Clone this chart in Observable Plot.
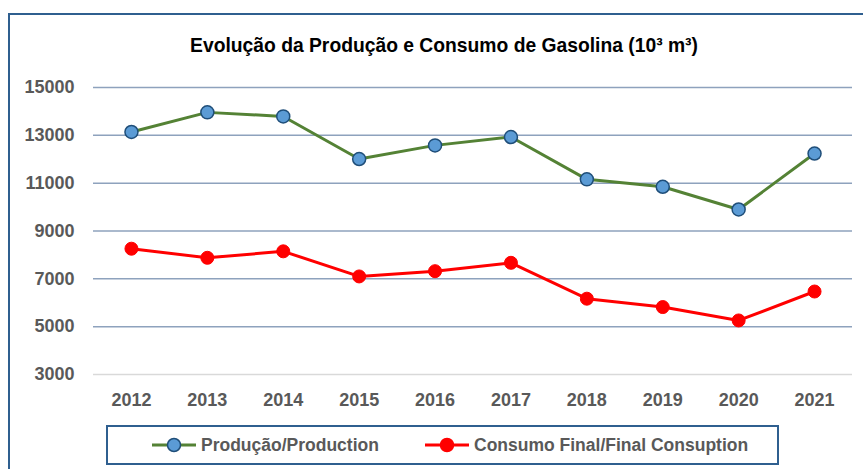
<!DOCTYPE html>
<html>
<head>
<meta charset="utf-8">
<script src="https://cdn.jsdelivr.net/npm/d3@7"></script>
<script src="https://cdn.jsdelivr.net/npm/@observablehq/plot@0.6"></script>
<style>
  html, body { margin: 0; padding: 0; background: #fff; }
  #wrap { position: relative; width: 863px; height: 469px; overflow: hidden; background: #fff; }
  #frame { position: absolute; left: 8px; top: 13px; right: -10px; bottom: -10px; border: 2px solid #2f5f8f; }
  #title { position: absolute; left: 25px; right: 0; top: 33px; height: 26px; line-height: 26px; text-align: center;
           font-family: "Liberation Sans", sans-serif; font-weight: bold; font-size: 19.3px; color: #000; }
  #chart { position: absolute; left: 0; top: 0; }
  #legend { position: absolute; left: 106px; top: 425px; width: 669px; height: 36px; border: 2px solid #2f5f8f; background: #fff; }
  .item { position: absolute; top: 0; height: 36px; display: flex; align-items: center;
          font-family: "Liberation Sans", sans-serif; font-weight: bold; font-size: 17.5px; color: #595959; }
  .item svg { margin-right: 3px; }
</style>
</head>
<body>
<div id="wrap">
  <div id="frame"></div>
  <div id="title">Evolução da Produção e Consumo de Gasolina (10³ m³)</div>
  <div id="chart"></div>
  <div id="legend"></div>
</div>
<script>
const years = ["2012","2013","2014","2015","2016","2017","2018","2019","2020","2021"];
const production = [13140, 13960, 13790, 12010, 12580, 12930, 11160, 10850, 9900, 12240];
const consumption = [8260, 7880, 8150, 7100, 7320, 7670, 6170, 5820, 5260, 6470];
const yTicks = [3000, 5000, 7000, 9000, 11000, 13000, 15000];
const seriesNames = ["Produção/Production", "Consumo Final/Final Consuption"];

const prodData = years.map((y, i) => ({year: y, value: production[i]}));
const consData = years.map((y, i) => ({year: y, value: consumption[i]}));

const green = "#548235";
const blueFill = "#5b9bd5";
const blueStroke = "#1f4e79";
const red = "#ff0000";

const chart = Plot.plot({
  width: 863,
  height: 469,
  marginLeft: 93,
  marginRight: 11,
  marginTop: 87,
  marginBottom: 95,
  style: {fontFamily: "Liberation Sans, sans-serif", fontSize: "18px", fontWeight: "bold", color: "#595959", background: "transparent"},
  x: {type: "point", domain: years, padding: 0.5, round: false, label: null, tickSize: 0, tickPadding: 19},
  y: {domain: [3000, 15000], ticks: yTicks, label: null, tickSize: 0, tickPadding: 19, tickFormat: d => String(d)},
  marks: [
    Plot.ruleY(yTicks.filter(t => t > 3000), {stroke: "#8ea2bd", strokeWidth: 1.5}),
    Plot.ruleY([3000], {stroke: "#d9d9d9", strokeWidth: 1.5}),
    Plot.lineY(prodData, {x: "year", y: "value", stroke: green, strokeWidth: 3}),
    Plot.dot(prodData, {x: "year", y: "value", r: 6.5, fill: blueFill, stroke: blueStroke, strokeWidth: 1.5}),
    Plot.lineY(consData, {x: "year", y: "value", stroke: red, strokeWidth: 3}),
    Plot.dot(consData, {x: "year", y: "value", r: 6.5, fill: red, stroke: red, strokeWidth: 1})
  ]
});
document.getElementById("chart").appendChild(chart);

const legend = document.getElementById("legend");
const items = [
  {name: seriesNames[0], left: 42, line: green, fill: blueFill, stroke: blueStroke},
  {name: seriesNames[1], left: 315, line: red, fill: red, stroke: red}
];
items.forEach(it => {
  const div = document.createElement("div");
  div.className = "item";
  div.style.left = it.left + "px";
  div.innerHTML = `<svg width="48" height="20"><line x1="2" x2="46" y1="10" y2="10" stroke="${it.line}" stroke-width="3"/><circle cx="24" cy="10" r="6.5" fill="${it.fill}" stroke="${it.stroke}" stroke-width="1.5"/></svg><span>${it.name}</span>`;
  legend.appendChild(div);
});
</script>
</body>
</html>
